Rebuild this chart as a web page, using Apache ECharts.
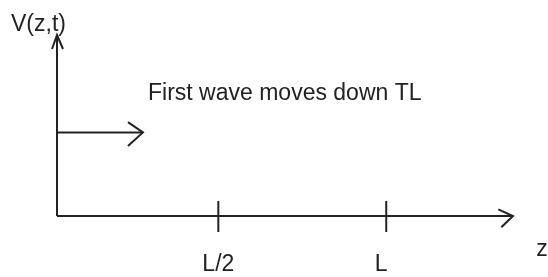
<!DOCTYPE html>
<html>
<head>
<meta charset="utf-8">
<script src="https://cdn.jsdelivr.net/npm/echarts@6/dist/echarts.min.js"></script>
<style>
  html, body { margin: 0; background: #fff; }
  #chart { width: 548px; height: 277px; }
</style>
</head>
<body>
<div id="chart"></div>
<script>
// z in units of L, V normalised to the top of the axis
const zMax = 1.385;
const vMax = 1;
const zTicks = [0.49, 1.0];
const zTickLabels = ['L/2', 'L'];
const waveLevel = 0.462;
const waveEnd = 0.261;
const zName = 'z';
const vName = 'V(z,t)';
const note = 'First wave moves down TL';

// each arrow: [z0, v0, z1, v1]
const arrows = [
  [0, 0, zMax, 0],
  [0, 0, 0, vMax],
  [0, waveLevel, waveEnd, waveLevel]
];

// style
const ink = '#222';
const fontFamily = '"Liberation Sans", Arial, sans-serif';
const fontSize = 23;
const font = fontSize + 'px ' + fontFamily;
// arrow heads in px: [backA, spreadA, backB, spreadB]
const heads = [[11.7, 11.3, 14.7, 6.7], [14, 6, 14, 5], [15, 13.7, 15, 10.3]];
const tickUp = 15, tickDown = 16, labelGap = 49;
const labelShift = [0, -5];
const zNameOffset = [29, 34];

function renderArrow(params, api) {
  const i = params.dataIndex;
  const p0 = api.coord([api.value(0), api.value(1)]);
  const p1 = api.coord([api.value(2), api.value(3)]);
  const h = heads[i];
  const dx = p1[0] - p0[0], dy = p1[1] - p0[1];
  const len = Math.hypot(dx, dy);
  const ux = dx / len, uy = dy / len;
  const nx = -uy, ny = ux;
  const a = [p1[0] - ux * h[0] + nx * h[1], p1[1] - uy * h[0] + ny * h[1]];
  const b = [p1[0] - ux * h[2] - nx * h[3], p1[1] - uy * h[2] - ny * h[3]];
  const children = [
    { type: 'line', shape: { x1: p0[0], y1: p0[1], x2: p1[0], y2: p1[1] },
      style: { stroke: ink, lineWidth: 2 } },
    { type: 'polyline', shape: { points: [a, p1, b] },
      style: { stroke: ink, lineWidth: 2, fill: null } }
  ];
  if (i === 0) {
    // name of the z axis sits below its arrow tip
    children.push({ type: 'text', x: p1[0] + zNameOffset[0], y: p1[1] + zNameOffset[1],
      style: { text: zName, fill: ink, font: font, align: 'center', verticalAlign: 'middle' } });
  }
  return { type: 'group', children: children };
}

function renderTick(params, api) {
  const i = params.dataIndex;
  const p = api.coord([api.value(0), 0]);
  return {
    type: 'group',
    children: [
      { type: 'line', shape: { x1: p[0], y1: p[1] - tickUp, x2: p[0], y2: p[1] + tickDown },
        style: { stroke: ink, lineWidth: 2 } },
      { type: 'text', x: p[0] + labelShift[i], y: p[1] + labelGap,
        style: { text: zTickLabels[i], fill: ink, font: font,
                 align: 'center', verticalAlign: 'middle' } }
    ]
  };
}

const chart = echarts.init(document.getElementById('chart'));
chart.setOption({
  animation: false,
  grid: { left: 57, right: 35, top: 35, bottom: 61 },
  xAxis: {
    type: 'value', min: 0, max: zMax,
    axisLine: { show: false }, axisTick: { show: false },
    axisLabel: { show: false }, splitLine: { show: false }
  },
  yAxis: {
    type: 'value', min: 0, max: vMax,
    axisLine: { show: false }, axisTick: { show: false },
    axisLabel: { show: false }, splitLine: { show: false },
    name: vName, nameLocation: 'end', nameGap: -1,
    nameTextStyle: { color: ink, fontSize: fontSize, fontFamily: fontFamily, padding: [0, 37, 0, 0] }
  },
  graphic: [{
    type: 'text', left: 148, top: 82,
    style: { text: note, fill: ink, font: font }
  }],
  series: [
    { type: 'custom', name: 'arrows', renderItem: renderArrow, data: arrows, silent: true },
    { type: 'custom', name: 'ticks', renderItem: renderTick, data: zTicks.map(z => [z]), silent: true }
  ]
});
</script>
</body>
</html>
